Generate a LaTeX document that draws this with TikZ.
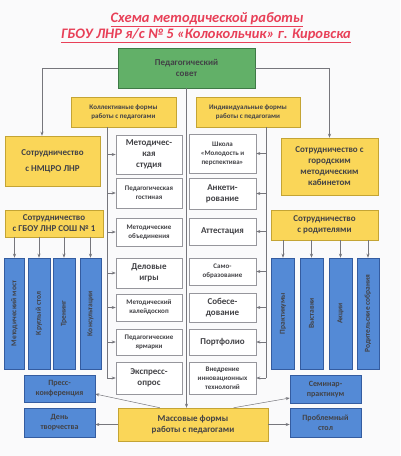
\documentclass[tikz,border=0pt]{standalone}
\usepackage{fontspec}
\setmainfont{Carlito}
\usetikzlibrary{positioning,arrows.meta,calc}
\definecolor{ink}{RGB}{66,66,70}
\definecolor{titlered}{RGB}{232,64,88}
\definecolor{wire}{RGB}{118,118,124}
\definecolor{gframe}{RGB}{150,150,156}
\definecolor{paper}{RGB}{250,250,251}
\definecolor{sovetfill}{RGB}{98,176,104}
\definecolor{sovetframe}{RGB}{62,122,70}
\definecolor{yfill}{RGB}{250,214,88}
\definecolor{yframe}{RGB}{196,164,52}
\definecolor{bfill}{RGB}{84,138,214}
\definecolor{bframe}{RGB}{52,92,160}
\tikzset{
  big/.style={font=\fontsize{9}{11}\selectfont\bfseries},
  small/.style={font=\fontsize{7}{9}\selectfont\bfseries},
  sovet/.style={draw=sovetframe, fill=sovetfill, align=center, inner sep=1pt,
    text=ink, line width=0.6pt, big},
  ybox/.style={draw=yframe, fill=yfill, align=center, inner sep=1pt,
    text=ink, line width=0.5pt, big},
  gbox/.style={draw=gframe, fill=white, align=center, inner sep=1pt,
    text=ink, line width=0.6pt, big},
  lcol/.style={gbox, minimum width=66pt},
  rcol/.style={gbox, minimum width=67pt},
  bbox/.style={draw=bframe, fill=bfill, align=center, inner sep=1pt,
    text=ink, line width=0.5pt, font=\fontsize{8}{10}\selectfont\bfseries,
    minimum width=71pt},
  bvert/.style={draw=bframe, fill=bfill, inner sep=0pt, text=ink, line width=0.5pt,
    font=\fontsize{7.5}{9}\selectfont\bfseries, minimum height=111pt},
  titletext/.style={text=titlered, font=\fontsize{14.5}{17}\selectfont\bfseries\itshape},
  wire/.style={line width=0.5pt, draw=wire},
  flow/.style={-{Stealth[length=4pt,width=3pt]}, line width=0.5pt, draw=wire},
}
\begin{document}
\begin{tikzpicture}[x=1pt,y=-1pt]
  \fill[paper] (0,0) rectangle (400,456);
  \useasboundingbox (0,0) rectangle (400,456);
  \node[titletext] (title1) at (207,20) {\underline{Схема методической работы}};
  \node[titletext] (title2) at (206,36) {\underline{ГБОУ ЛНР я/с № 5 «Колокольчик» г. Кировска}};

  \node[sovet, minimum width=137pt, minimum height=40pt] (sovet) at (186.5,68) {Педагогический\\совет};
  \node[ybox, small, minimum width=105pt, minimum height=30pt] (coll) at (123.5,112)
    {Коллективные формы\\работы с педагогами};
  \node[ybox, small, minimum width=104pt, minimum height=30pt] (indiv) at (248,112)
    {Индивидуальные формы\\работы с педагогами};

  \node[ybox, minimum width=95pt, minimum height=50pt] (nmcro) at (52.5,161) {Сотрудничество\\[5pt]с НМЦРО ЛНР};
  \node[ybox, minimum width=97pt, minimum height=57pt] (gmk) at (329.5,166.5)
    {Сотрудничество с\\городским\\методическим\\кабинетом};
  \node[ybox, minimum width=98pt, minimum height=27pt] (sosh) at (54,223.5) {Сотрудничество\\с ГБОУ ЛНР СОШ № 1};
  \node[ybox, minimum width=107pt, minimum height=30pt] (roditeli) at (324.5,225) {Сотрудничество\\с родителями};

  \node[lcol, minimum height=39pt] (studio) at (149,154.5) {Методичес-\\кая\\студия};
  \node[lcol, small, minimum height=30pt] (gost) at (149,193) {Педагогическая\\гостиная};
  \node[lcol, small, minimum height=28pt] (mo) at (149,232) {Методические\\объединения};
  \node[lcol, minimum height=30pt] (games) at (149,273) {Деловые\\игры};
  \node[lcol, small, minimum height=27pt] (kaleid) at (149,307.5) {Методический\\калейдоскоп};
  \node[lcol, small, minimum height=26pt] (fair) at (149,342) {Педагогические\\ярмарки};
  \node[lcol, minimum height=32pt] (express) at (149,378) {Экспресс-\\опрос};

  \node[rcol, small, minimum height=39pt] (school) at (222.5,153.5) {Школа\\«Молодость и\\перспектива»};
  \node[rcol, minimum height=31pt] (anket) at (222.5,193.5) {Анкети-\\рование};
  \node[rcol, minimum height=27pt] (attest) at (222.5,231.5) {Аттестация};
  \node[rcol, small, minimum height=27pt] (selfedu) at (222.5,271.5) {Само-\\образование};
  \node[rcol, minimum height=29pt] (sobes) at (222.5,307.5) {Собесе-\\дование};
  \node[rcol, minimum height=26pt] (portf) at (222.5,342) {Портфолио};
  \node[rcol, small, minimum height=32pt] (innov) at (222.5,378) {Внедрение\\инновационных\\технологий};

  \node[bvert, minimum width=20pt] (most) at (14.5,313.5) {\rotatebox{90}{Методический мост}};
  \node[bvert, minimum width=22pt] (kstol) at (39,313.5) {\rotatebox{90}{Круглый стол}};
  \node[bvert, minimum width=22pt] (trening) at (64,313.5) {\rotatebox{90}{Тренинг}};
  \node[bvert, minimum width=21pt] (konsult) at (90.5,313.5) {\rotatebox{90}{Консультации}};
  \node[bvert, minimum width=23pt] (praktik) at (283,313.5) {\rotatebox{90}{Практикумы}};
  \node[bvert, minimum width=23pt] (vystavki) at (311.5,313.5) {\rotatebox{90}{Выставки}};
  \node[bvert, minimum width=23pt] (akcii) at (340.5,313.5) {\rotatebox{90}{Акции}};
  \node[bvert, minimum width=22pt] (sobrania) at (368,313.5) {\rotatebox{90}{Родительские собрания}};

  \node[bbox, minimum height=27pt] (press) at (59.5,388.5) {Пресс-\\конференция};
  \node[bbox, minimum height=29pt] (den) at (59.5,422.5) {День\\творчества};
  \node[bbox, minimum height=28pt] (seminar) at (325.5,389) {Семинар-\\практикум};
  \node[bbox, minimum height=29pt] (problem) at (325.5,422.5) {Проблемный\\стол};
  \node[ybox, minimum width=150pt, minimum height=33pt] (mass) at (193,424.5) {Массовые формы\\работы с педагогами};

  \coordinate (lx) at (107,0);
  \coordinate (rx) at (266,0);
  \draw[flow] (sovet.west) -| ([xshift=-10.5pt]nmcro.north);
  \draw[flow] (sovet.east) -| (gmk.north);
  \draw[flow] (sovet.south) -- (sovet.south |- mass.north);
  \draw[wire] (coll.south -| lx) -- (lx |- express.west);
  \draw[wire] (indiv.south -| rx) -- (rx |- innov.east);
  \foreach \n in {studio,gost,mo,games,kaleid,fair,express}
    \draw[flow] (lx |- \n.west) -- (\n.west);
  \foreach \n in {school,anket,attest,selfedu,sobes,portf,innov}
    \draw[flow] (rx |- \n.east) -- (\n.east);
  \foreach \b in {most,kstol,trening,konsult}
    \draw[flow] (sosh.south -| \b.north) -- (\b.north);
  \foreach \b in {praktik,vystavki,akcii,sobrania}
    \draw[flow] (roditeli.south -| \b.north) -- (\b.north);
  \draw[flow] ($(mass.north west)!0.28!(mass.north east)$) -- ([yshift=-5.5pt]press.east);
  \draw[flow] ($(mass.north west)!0.77!(mass.north east)$) -- ([yshift=-9pt]seminar.west);
  \draw[flow] (mass.west) -- (mass.west -| den.east);
  \draw[flow] (mass.east) -- (mass.east -| problem.west);
\end{tikzpicture}
\end{document}
